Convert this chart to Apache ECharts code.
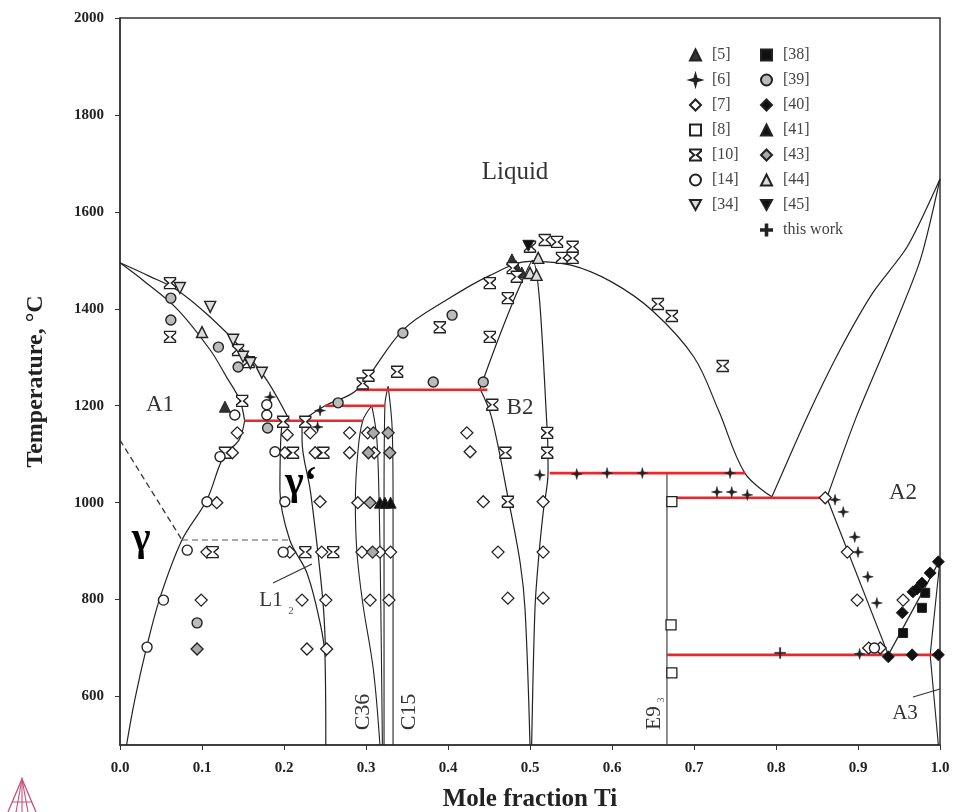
<!DOCTYPE html>
<html><head><meta charset="utf-8">
<script src="https://cdn.jsdelivr.net/npm/echarts@6/dist/echarts.min.js"></script>
<style>html,body{margin:0;padding:0;background:#fff}#c{width:958px;height:812px}</style>
</head><body><div id="c"></div>
<script>
// ---- axis ticks ----
const xTicks = [0,0.1,0.2,0.3,0.4,0.5,0.6,0.7,0.8,0.9,1.0];
const yTicks = [600,800,1000,1200,1400,1600,1800,2000];

// ---- phase boundary curves [x_Ti, T(°C)] ----
const liqA1 = [[0,1495],[0.035,1468],[0.0695,1439],[0.11,1383],[0.15,1315],[0.179,1253],[0.207,1169]];
const liqMid = [[0.222,1169],[0.25,1200],[0.289,1233],[0.345,1356],[0.4,1420],[0.45,1468],[0.5,1498],[0.55,1490],[0.6,1455],[0.65,1395],[0.7,1300],[0.73,1190],[0.762,1061],[0.795,1012]];
const liqTi = [[0.795,1012],[0.838,1177],[0.878,1315],[0.918,1433],[0.96,1528],[1.0,1668]];
const solA2 = [[0.862,1010],[0.898,1177],[0.939,1342],[0.976,1501],[1.0,1668]];
const solA1 = [[0,1495],[0.028,1459],[0.0695,1400],[0.11,1315],[0.13,1259],[0.146,1212],[0.152,1169]];
const solvA1 = [[0.152,1169],[0.145,1129],[0.126,1094],[0.106,1006],[0.0756,923],[0.049,805],[0.0325,702],[0.018,593],[0.008,500]];
const gpLeft = [[0.198,1169],[0.196,1129],[0.195,1026],[0.207,923],[0.228,855],[0.244,752],[0.25,682],[0.251,500]];
const gpRight = [[0.222,1169],[0.222,1129],[0.232,1026],[0.241,902],[0.248,785],[0.251,682]];
const c36Left = [[0.307,1200],[0.296,1169],[0.290,1103],[0.287,1000],[0.289,896],[0.296,793],[0.309,655],[0.317,500]];
const c36Right = [[0.307,1200],[0.313,1136],[0.316,1000],[0.318,793],[0.320,500]];
const c15Left = [[0.327,1240],[0.323,1200],[0.322,1000],[0.322,500]];
const c15Right = [[0.327,1240],[0.332,1150],[0.333,1000],[0.333,500]];
const b2Upper = [[0.439,1235],[0.461,1336],[0.484,1433],[0.503,1500],[0.521,1150],[0.522,1061],[0.516,979],[0.51,876],[0.506,779],[0.502,500]];
const b2Lower = [[0.439,1235],[0.453,1177],[0.473,1012],[0.488,876],[0.494,779],[0.5,500]];
const e93 = [[0.667,500],[0.667,1061]];
const solvA2 = [[0.862,1010],[0.937,686]];
const betaTr = [[0.937,686],[1.0,882]];
const a3Up = [[1.0,882],[0.988,686]];
const a3Solv = [[0.988,686],[0.998,500]];
const dash1 = [[0,1129],[0.0756,923]];
const dash2 = [[0.0756,923],[0.205,923]];
// invariant (red) lines
const red1 = [[0.152,1169],[0.296,1169]];
const red2 = [[0.25,1200],[0.323,1200]];
const red3 = [[0.289,1233],[0.448,1233]];
const red4 = [[0.524,1061],[0.762,1061]];
const red5 = [[0.667,1010],[0.862,1010]];
const red6 = [[0.667,686],[1.0,686]];

// ---- experimental data ----
const d5 = [[0.478,1502],[0.483,1488],[0.49,1475],[0.128,1198]];
const d6 = [[0.183,1218],[0.241,1156],[0.244,1190],[0.512,1057],[0.557,1059],[0.594,1061],[0.637,1061],[0.744,1061],[0.728,1022],[0.746,1022],[0.765,1016],[0.872,1006],[0.882,981],[0.896,929],[0.9,898],[0.912,847],[0.923,793],[0.902,688]];
const d7 = [[0.143,1144],[0.137,1103],[0.204,1140],[0.232,1144],[0.201,1103],[0.238,1103],[0.118,1000],[0.244,1002],[0.106,898],[0.207,898],[0.246,898],[0.099,799],[0.222,799],[0.251,799],[0.228,698],[0.252,698],[0.28,1144],[0.302,1144],[0.28,1103],[0.31,1103],[0.29,1000],[0.295,898],[0.317,898],[0.33,898],[0.305,799],[0.328,799],[0.423,1144],[0.427,1105],[0.443,1002],[0.516,1002],[0.461,898],[0.516,898],[0.473,803],[0.516,803],[0.86,1010],[0.887,898],[0.899,799],[0.913,700],[0.927,700],[0.955,799]];
const d8 = [[0.673,1002],[0.672,748],[0.673,649]];
const d10 = [[0.061,1453],[0.061,1342],[0.144,1315],[0.157,1290],[0.149,1210],[0.128,1103],[0.199,1167],[0.226,1167],[0.211,1103],[0.248,1103],[0.113,898],[0.226,898],[0.26,898],[0.296,1246],[0.303,1262],[0.338,1270],[0.39,1362],[0.451,1453],[0.473,1422],[0.451,1342],[0.454,1202],[0.47,1103],[0.521,1144],[0.521,1103],[0.473,1002],[0.479,1484],[0.484,1466],[0.5,1528],[0.518,1542],[0.533,1538],[0.552,1528],[0.539,1505],[0.552,1505],[0.656,1410],[0.673,1385],[0.735,1282]];
const d14 = [[0.14,1181],[0.179,1181],[0.179,1202],[0.122,1095],[0.189,1105],[0.106,1002],[0.201,1002],[0.082,902],[0.199,898],[0.053,799],[0.033,702],[0.92,700]];
const d34 = [[0.073,1443],[0.11,1404],[0.138,1336],[0.15,1301],[0.159,1288],[0.173,1268]];
const d38 = [[0.955,731],[0.978,783],[0.982,814]];
const d39 = [[0.062,1422],[0.062,1377],[0.12,1321],[0.144,1280],[0.18,1154],[0.094,752],[0.266,1206],[0.345,1350],[0.382,1249],[0.443,1249],[0.405,1387]];
const d40 = [[0.937,682],[0.966,686],[0.998,686],[0.954,773],[0.967,816],[0.972,822],[0.978,834],[0.988,855],[0.998,878]];
const d41 = [[0.317,1000],[0.323,1000],[0.33,1000]];
const d43 = [[0.309,1144],[0.327,1144],[0.303,1103],[0.329,1103],[0.305,1000],[0.308,898],[0.094,698]];
const d44 = [[0.1,1352],[0.5,1474],[0.508,1470],[0.51,1505]];
const d45 = [[0.498,1530]];
const dThis = [[0.805,690]];

const P = {
  tdown: 'path://M0,0 L10,0 L5,9 Z',
  star4: 'path://M5,0 L6.1,3.9 L10,5 L6.1,6.1 L5,10 L3.9,6.1 L0,5 L3.9,3.9 Z',
  plus: 'path://M4.3,0 L5.7,0 L5.7,4.3 L10,4.3 L10,5.7 L5.7,5.7 L5.7,10 L4.3,10 L4.3,5.7 L0,5.7 L0,4.3 L4.3,4.3 Z',
  hour: 'path://M0,0 L10,0 L10,1.6 L6.2,5 L10,8.4 L10,10 L0,10 L0,8.4 L3.8,5 L0,1.6 Z'
};
const INK = '#222';
function sc(name, data, symbol, size, fill, bw) {
  return { type:'scatter', name, data, symbol, symbolSize:size, z:5,
    itemStyle:{ color:fill, borderColor:INK, borderWidth:bw, opacity:1 } };
}
function ln(data, color, width, type, smooth) {
  return { type:'line', data, showSymbol:false, symbol:'none', smooth: smooth===undefined?0.35:smooth,
    lineStyle:{ color, width, type: type||'solid' }, z: color==='#222'?3:4, silent:true };
}
const BLK = '#222', RED = '#e8282c';
const series = [
  ln(liqA1,BLK,1.2), ln(liqMid,BLK,1.2), ln(liqTi,BLK,1.2,'solid',0.25), ln(solA2,BLK,1.2,'solid',0.25),
  ln(solA1,BLK,1.2), ln(solvA1,BLK,1.2), ln(gpLeft,BLK,1.2), ln(gpRight,BLK,1.2),
  ln(c36Left,BLK,1.1), ln(c36Right,BLK,1.1), ln(c15Left,BLK,1.1), ln(c15Right,BLK,1.1),
  ln(b2Upper,BLK,1.2,'solid',0.3), ln(b2Lower,BLK,1.2), ln(e93,'#444',1.2,'solid',0),
  ln(solvA2,BLK,1.2,'solid',0), ln(betaTr,BLK,1.2,'solid',0), ln(a3Up,BLK,1.1,'solid',0), ln(a3Solv,BLK,1.1,'solid',0),
  ln(dash1,'#333',1.3,[6,4],0), ln(dash2,'#555',1.2,[6,4],0),
  ln(red1,RED,2.6,'solid',0), ln(red2,RED,2.6,'solid',0), ln(red3,RED,2.6,'solid',0),
  ln(red4,RED,2.6,'solid',0), ln(red5,RED,2.6,'solid',0), ln(red6,RED,2.6,'solid',0),
  sc('[5]', d5, 'triangle', 11, '#333', 1),
  sc('[6]', d6, P.star4, 11, '#222', 0.5),
  sc('[7]', d7, 'diamond', 12, '#fff', 1.3),
  sc('[8]', d8, 'rect', 10, '#fff', 1.3),
  sc('[10]', d10, P.hour, 11, '#fff', 1.4),
  sc('[14]', d14, 'circle', 10, '#fff', 1.4),
  sc('[34]', d34, P.tdown, 11, '#ddd', 1.4),
  sc('[38]', d38, 'rect', 9, '#111', 1),
  sc('[39]', d39, 'circle', 10, '#bbb', 1.4),
  sc('[40]', d40, 'diamond', 12, '#111', 1),
  sc('[41]', d41, 'triangle', 11, '#111', 1),
  sc('[43]', d43, 'diamond', 12, '#aaa', 1.3),
  sc('[44]', d44, 'triangle', 11, '#ddd', 1.4),
  sc('[45]', d45, P.tdown, 11, '#111', 1),
  sc('this work', dThis, P.plus, 11, '#222', 0.3)
];
const SERIF = 'Liberation Serif';
const legText = { fontFamily: SERIF, fontSize: 16, color:'#444', padding:[0,0,0,6] };
const option = {
  animation:false,
  backgroundColor:'#fff',
  grid:{ left:120, right:18, top:18, bottom:67, show:true, borderColor:'#333', borderWidth:1.5, outerBoundsMode:'none', containLabel:false },
  legend:[
    { data:['[5]','[6]','[7]','[8]','[10]','[14]','[34]'], orient:'vertical', left:684, top:42,
      itemWidth:11, itemHeight:11, itemGap:9, textStyle:legText, selectedMode:false },
    { data:['[38]','[39]','[40]','[41]','[43]','[44]','[45]','this work'], orient:'vertical', left:755, top:42,
      itemWidth:11, itemHeight:11, itemGap:9, textStyle:legText, selectedMode:false }
  ],
  xAxis:{ type:'value', min:0, max:1, interval:0.1,
    name:'Mole fraction Ti', nameLocation:'middle', nameGap:42,
    nameTextStyle:{ fontFamily:SERIF, fontWeight:'bold', fontSize:25, color:'#222' },
    axisLine:{ lineStyle:{ color:'#333', width:1.5 } },
    axisTick:{ length:5, lineStyle:{ color:'#333' } },
    axisLabel:{ formatter:v=>v.toFixed(1), fontFamily:SERIF, fontWeight:'bold', fontSize:15, color:'#222', margin:16 },
    splitLine:{ show:false } },
  yAxis:{ type:'value', min:500, max:2000,
    name:'Temperature, °C', nameLocation:'middle', nameGap:72,
    nameTextStyle:{ fontFamily:SERIF, fontWeight:'bold', fontSize:24, color:'#222' },
    axisLine:{ lineStyle:{ color:'#333', width:1.5 } },
    axisTick:{ length:5, customValues:yTicks, lineStyle:{ color:'#333' } },
    axisLabel:{ customValues:yTicks, formatter:v=>String(v), fontFamily:SERIF, fontWeight:'bold', fontSize:15, color:'#222', margin:16 },
    splitLine:{ show:false } },
  series,
  graphic:[
    { type:'text', x:515, y:172, style:{ text:'Liquid', font:'25px "Liberation Serif"', fill:'#333', align:'center', verticalAlign:'middle' } },
    { type:'text', x:160, y:405, style:{ text:'A1', font:'23px "Liberation Serif"', fill:'#333', align:'center', verticalAlign:'middle' } },
    { type:'text', x:520, y:408, style:{ text:'B2', font:'23px "Liberation Serif"', fill:'#333', align:'center', verticalAlign:'middle' } },
    { type:'text', x:903, y:493, style:{ text:'A2', font:'23px "Liberation Serif"', fill:'#333', align:'center', verticalAlign:'middle' } },
    { type:'text', x:905, y:713, style:{ text:'A3', font:'21px "Liberation Serif"', fill:'#333', align:'center', verticalAlign:'middle' } },
    { type:'text', x:141, y:540, style:{ text:'γ', font:'bold 40px "Liberation Serif"', fill:'#000', align:'center', verticalAlign:'middle' } },
    { type:'text', x:301, y:484, style:{ text:'γ‘', font:'bold 40px "Liberation Serif"', fill:'#000', align:'center', verticalAlign:'middle' } },
    { type:'text', x:271, y:600, style:{ text:'L1', font:'21px "Liberation Serif"', fill:'#333', align:'center', verticalAlign:'middle' } },
    { type:'text', x:291, y:611, style:{ text:'2', font:'11px "Liberation Serif"', fill:'#555', align:'center', verticalAlign:'middle' } },
    { type:'text', x:363, y:712, rotation:Math.PI/2, style:{ text:'C36', font:'22px "Liberation Serif"', fill:'#333', align:'center', verticalAlign:'middle' } },
    { type:'text', x:409, y:712, rotation:Math.PI/2, style:{ text:'C15', font:'22px "Liberation Serif"', fill:'#333', align:'center', verticalAlign:'middle' } },
    { type:'text', x:654, y:718, rotation:Math.PI/2, style:{ text:'E9', font:'21px "Liberation Serif"', fill:'#333', align:'center', verticalAlign:'middle' } },
    { type:'text', x:661, y:700, rotation:Math.PI/2, style:{ text:'3', font:'10px "Liberation Serif"', fill:'#555', align:'center', verticalAlign:'middle' } },
    { type:'line', shape:{ x1:273, y1:583, x2:312, y2:564 }, style:{ stroke:'#333', lineWidth:1.2 } },
    { type:'line', shape:{ x1:913, y1:697, x2:940, y2:689 }, style:{ stroke:'#333', lineWidth:1.2 } },
    { type:'polyline', shape:{ points:[[8,812],[22,779],[36,812]] }, style:{ stroke:'#c4527a', lineWidth:1.3, fill:null } },
    { type:'polyline', shape:{ points:[[16,812],[22,779],[28,812]] }, style:{ stroke:'#c4527a', lineWidth:1.1, fill:null } },
    { type:'line', shape:{ x1:22, y1:779, x2:22, y2:812 }, style:{ stroke:'#c4527a', lineWidth:1.1 } },
    { type:'line', shape:{ x1:12, y1:802, x2:32, y2:802 }, style:{ stroke:'#c4527a', lineWidth:1 } }
  ]
};
const chart = echarts.init(document.getElementById('c'), null, { renderer:'canvas' });
chart.setOption(option);
</script></body></html>
